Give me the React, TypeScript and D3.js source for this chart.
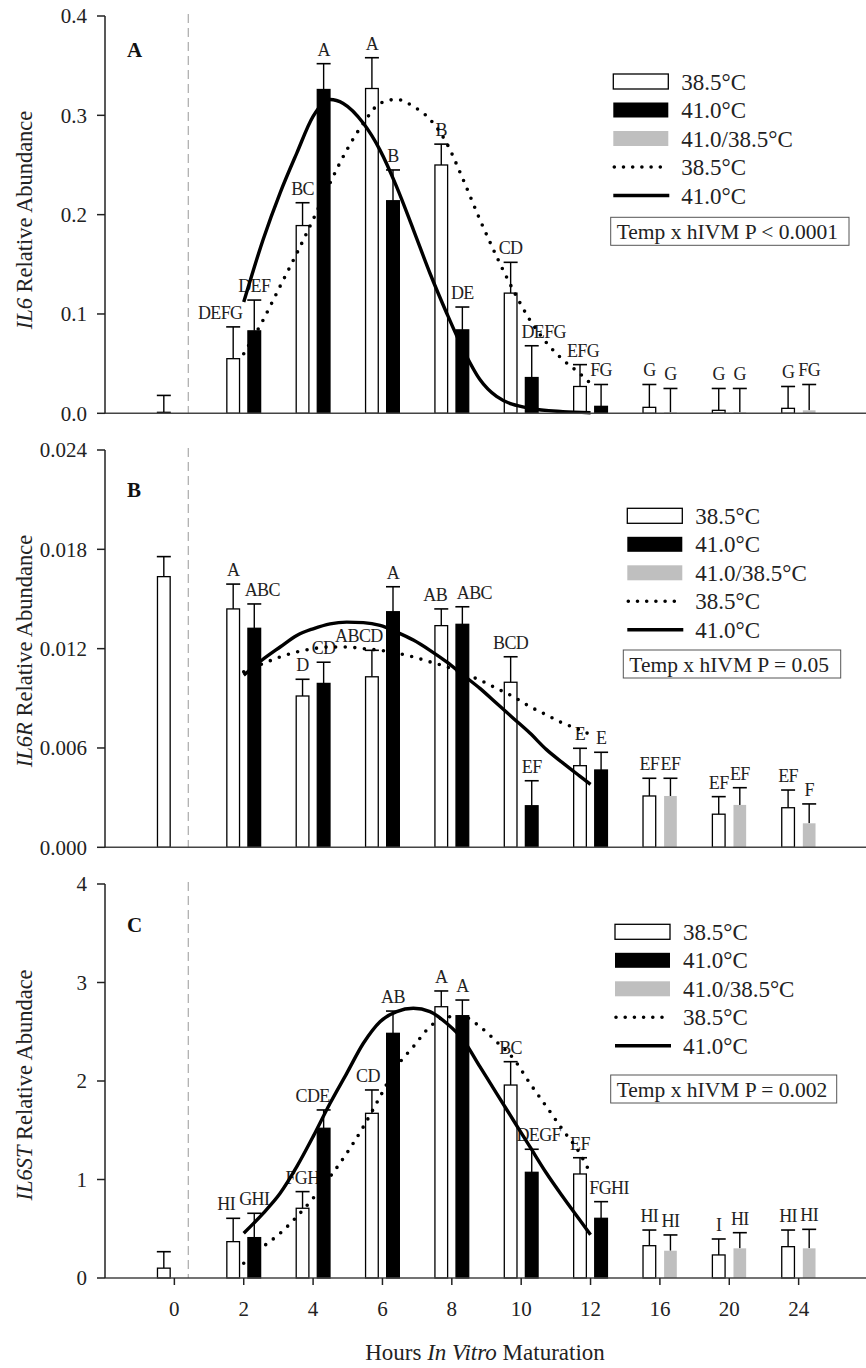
import React from "react";
import * as d3 from "d3";

// ---------- data ----------
const hours = ["0", "2", "4", "6", "8", "10", "12", "16", "20", "24"];

// Panel A: IL6
const il6Mean385 = [0.001, 0.055, 0.189, 0.327, 0.25, 0.121, 0.027, 0.006, 0.003, 0.005];
const il6Se385 = [0.017, 0.032, 0.023, 0.031, 0.021, 0.031, 0.022, 0.023, 0.022, 0.022];
const il6Mean41 = [null, 0.083, 0.326, 0.214, 0.084, 0.036, 0.007, null, null, null];
const il6Se41 = [null, 0.031, 0.026, 0.031, 0.023, 0.032, 0.022, null, null, null];
const il6MeanShift = [null, null, null, null, null, null, null, 0.001, 0.001, 0.003];
const il6SeShift = [null, null, null, null, null, null, null, 0.024, 0.024, 0.026];
const il6Lab385 = ["", "DEFG", "BC", "A", "B", "CD", "EFG", "G", "G", "G"];
const il6Lab41 = ["", "DEF", "A", "B", "DE", "DEFG", "FG", "", "", ""];
const il6LabShift = ["", "", "", "", "", "", "", "G", "G", "FG"];
const il6Fit385: [number, number][] = [
  [2, 0.06], [2.56, 0.094], [3.05, 0.128], [3.53, 0.161], [4.0, 0.195], [4.49, 0.232],
  [4.97, 0.265], [5.45, 0.292], [5.93, 0.312], [6.41, 0.316], [6.89, 0.309], [7.37, 0.296],
  [7.85, 0.272], [8.33, 0.235], [8.81, 0.195], [9.29, 0.158], [9.77, 0.124], [10.25, 0.094],
  [10.73, 0.071], [11.2, 0.054], [11.69, 0.04], [12, 0.03],
];
const il6Fit41: [number, number][] = [
  [2, 0.112], [2.56, 0.175], [3.05, 0.222], [3.53, 0.262], [4.0, 0.299], [4.49, 0.316],
  [4.87, 0.312], [5.45, 0.292], [5.93, 0.265], [6.41, 0.228], [6.89, 0.185], [7.37, 0.141],
  [7.85, 0.101], [8.33, 0.064], [8.81, 0.034], [9.29, 0.017], [10.25, 0.005], [11.2, 0.0017],
  [12, 0.0006],
];

// Panel B: IL6R
const il6rMean385 = [0.01635, 0.0144, 0.00914, 0.0103, 0.01339, 0.00997, 0.00493, 0.0031, 0.002, 0.00239];
const il6rSe385 = [0.00121, 0.0015, 0.00101, 0.0016, 0.00101, 0.00154, 0.00105, 0.00107, 0.00106, 0.00107];
const il6rMean41 = [null, 0.01323, 0.0099, 0.01423, 0.01347, 0.00251, 0.00467, null, null, null];
const il6rSe41 = [null, 0.00147, 0.00128, 0.00151, 0.00106, 0.00151, 0.00107, null, null, null];
const il6rMeanShift = [null, null, null, null, null, null, null, 0.0031, 0.00256, 0.00145];
const il6rSeShift = [null, null, null, null, null, null, null, 0.00107, 0.00104, 0.00117];
const il6rLab385 = ["", "A", "D", "ABCD", "AB", "BCD", "E", "EF", "EF", "EF"];
const il6rLab41 = ["", "ABC", "CD", "A", "ABC", "EF", "E", "", "", ""];
const il6rLabShift = ["", "", "", "", "", "", "", "EF", "EF", "F"];
const il6rFit385: [number, number][] = [
  [2, 0.0106], [2.56, 0.0111], [3.05, 0.0115], [3.53, 0.0118], [4.0, 0.012], [4.49, 0.0121],
  [4.97, 0.0121], [5.45, 0.012], [5.93, 0.0119], [6.89, 0.0115], [7.37, 0.0112], [7.85, 0.0109],
  [8.33, 0.0105], [8.81, 0.0101], [9.29, 0.0096], [9.77, 0.0091], [10.25, 0.0085], [10.73, 0.008],
  [11.2, 0.0075], [11.69, 0.0071], [12, 0.0068],
];
const il6rFit41: [number, number][] = [
  [2, 0.0104], [2.52, 0.0113], [3.05, 0.0121], [3.53, 0.0128], [4.0, 0.0132], [4.49, 0.0135],
  [4.97, 0.0136], [5.45, 0.01357], [5.93, 0.0134], [6.41, 0.013], [6.89, 0.01252], [7.37, 0.0119],
  [7.85, 0.0112], [8.33, 0.0104], [8.81, 0.0096], [9.29, 0.0087], [9.77, 0.0078], [10.25, 0.0069],
  [10.73, 0.0059], [11.2, 0.0051], [11.69, 0.0043], [12, 0.0038],
];

// Panel C: IL6ST
const il6stMean385 = [0.1, 0.369, 0.708, 1.672, 2.754, 1.959, 1.056, 0.328, 0.234, 0.318];
const il6stSe385 = [0.167, 0.237, 0.169, 0.237, 0.16, 0.237, 0.165, 0.159, 0.162, 0.169];
const il6stMean41 = [null, 0.41, 1.52, 2.484, 2.663, 1.073, 0.606, null, null, null];
const il6stSe41 = [null, 0.247, 0.186, 0.226, 0.159, 0.234, 0.169, null, null, null];
const il6stMeanShift = [null, null, null, null, null, null, null, 0.277, 0.301, 0.301];
const il6stSeShift = [null, null, null, null, null, null, null, 0.16, 0.159, 0.193];
const il6stLab385 = ["", "HI", "FGH", "CD", "A", "BC", "EF", "HI", "I", "HI"];
const il6stLab41 = ["", "GHI", "CDE", "AB", "A", "DEGF", "FGHI", "", "", ""];
const il6stLabShift = ["", "", "", "", "", "", "", "HI", "HI", "HI"];
const il6stFit385: [number, number][] = [
  [2, 0.149], [2.56, 0.318], [3.05, 0.454], [3.53, 0.622], [4.0, 0.809], [4.49, 1.028],
  [4.97, 1.266], [5.45, 1.536], [5.93, 1.84], [6.41, 2.145], [6.89, 2.348], [7.37, 2.551],
  [7.85, 2.653], [8.33, 2.653], [8.81, 2.551], [9.29, 2.399], [9.77, 2.23], [10.25, 1.977],
  [10.73, 1.739], [11.2, 1.503], [11.69, 1.266], [12, 1.06],
];
const il6stFit41: [number, number][] = [
  [2, 0.454], [2.56, 0.657], [3.05, 0.86], [3.53, 1.13], [4.0, 1.435], [4.49, 1.774],
  [4.97, 2.078], [5.45, 2.383], [5.93, 2.602], [6.41, 2.704], [6.89, 2.738], [7.37, 2.704],
  [7.85, 2.586], [8.33, 2.416], [8.81, 2.145], [9.29, 1.875], [9.77, 1.604], [10.25, 1.333],
  [10.73, 1.063], [11.2, 0.825], [11.69, 0.589], [12, 0.44],
];

const legendLabels = ["38.5°C", "41.0°C", "41.0/38.5°C", "38.5°C", "41.0°C"];

// small horizontal nudges of letter labels, as placed in the original figure
const labelNudge: Record<string, number> = {
  "A-1-w": -13, "A-5-b": 12, "A-6-w": 3,
  "B-1-b": 8, "B-3-w": -13, "B-4-w": -6, "B-4-b": 12,
  "C-1-w": -7, "C-2-b": -11, "C-3-w": -4, "C-5-b": 7, "C-6-b": 8,
};

// ---------- layout ----------
const W = 866;
const H = 1368;
const FONT = "'Liberation Serif', 'Times New Roman', serif";
const AXIS_X = 105;
const x = d3.scaleLinear().domain([-1, 10]).range([AXIS_X, 868]);
const BAR_OFF = 0.152;
const BAR_W = x(0.183) - x(0);

const panels = [
  {
    letter: "A", gene: "IL6", rest: " Relative Abundance",
    y: d3.scaleLinear().domain([0, 0.4]).range([413.3, 16]),
    ticks: [0, 0.1, 0.2, 0.3, 0.4], fmt: d3.format(".1f"),
    m385: il6Mean385, s385: il6Se385, m41: il6Mean41, s41: il6Se41, mS: il6MeanShift, sS: il6SeShift,
    l385: il6Lab385, l41: il6Lab41, lS: il6LabShift, f385: il6Fit385, f41: il6Fit41,
    legX: 613.3, legY: 74, boxX: 610.7, boxY: 217.3, boxW: 238.3, pText: "Temp x hIVM P < 0.0001",
    titleY: 220, letterY: 57,
  },
  {
    letter: "B", gene: "IL6R", rest: " Relative Abundance",
    y: d3.scaleLinear().domain([0, 0.024]).range([847.3, 450]),
    ticks: [0, 0.006, 0.012, 0.018, 0.024], fmt: d3.format(".3f"),
    m385: il6rMean385, s385: il6rSe385, m41: il6rMean41, s41: il6rSe41, mS: il6rMeanShift, sS: il6rSeShift,
    l385: il6rLab385, l41: il6rLab41, lS: il6rLabShift, f385: il6rFit385, f41: il6rFit41,
    legX: 627.3, legY: 508.3, boxX: 623.3, boxY: 650, boxW: 217.4, pText: "Temp x hIVM P = 0.05",
    titleY: 651, letterY: 497,
  },
  {
    letter: "C", gene: "IL6ST", rest: " Relative Abundace",
    y: d3.scaleLinear().domain([0, 4]).range([1278, 884]),
    ticks: [0, 1, 2, 3, 4], fmt: d3.format("d"),
    m385: il6stMean385, s385: il6stSe385, m41: il6stMean41, s41: il6stSe41, mS: il6stMeanShift, sS: il6stSeShift,
    l385: il6stLab385, l41: il6stLab41, lS: il6stLabShift, f385: il6stFit385, f41: il6stFit41,
    legX: 615, legY: 924.3, boxX: 610.7, boxY: 1075, boxW: 226, pText: "Temp x hIVM P = 0.002",
    titleY: 1085, letterY: 932,
  },
];

function Bar({ i, v, se, off, kind, label, y, nudge }: any) {
  if (v === null || v === undefined) return null;
  const cx = x(i + off);
  const top = y(v);
  const base = y(0);
  const cap = y(v + se);
  const fill = kind === "white" ? "#fff" : kind === "black" ? "#000" : "#bfbfbf";
  return (
    <g>
      <line x1={cx} x2={cx} y1={top} y2={cap} stroke="#000" strokeWidth={1.4} />
      <line x1={cx - 7} x2={cx + 7} y1={cap} y2={cap} stroke="#000" strokeWidth={1.6} />
      <rect
        x={cx - BAR_W / 2}
        y={top}
        width={BAR_W}
        height={Math.max(base - top, 0.8)}
        fill={fill}
        stroke={kind === "gray" ? "none" : "#000"}
        strokeWidth={1.3}
      />
      {label ? (
        <text
          x={cx + (nudge || 0)}
          y={cap - 8}
          textAnchor="middle"
          fontSize={18}
          letterSpacing={-0.6}
          fontFamily={FONT}
          fill="#222"
        >
          {label}
        </text>
      ) : null}
    </g>
  );
}

function Panel({ p, showX }: any) {
  const y = p.y;
  const y0 = y(0);
  const yTop = y(p.ticks[p.ticks.length - 1]);
  const line = d3
    .line<[number, number]>()
    .x((d) => x(d[0] / 2))
    .y((d) => y(d[1]))
    .curve(d3.curveMonotoneX);
  const rowH = 28.5;
  return (
    <g>
      {/* dashed separator */}
      <line x1={x(0.2)} x2={x(0.2)} y1={yTop - 2} y2={y0} stroke="#999" strokeWidth={1} strokeDasharray="9 5" />
      {/* bars */}
      {hours.map((h, i) => (
        <g key={h}>
          <Bar i={i} v={p.m385[i]} se={p.s385[i]} off={-BAR_OFF} kind="white" label={p.l385[i]} y={y}
            nudge={labelNudge[`${p.letter}-${i}-w`]} />
          <Bar i={i} v={p.m41[i]} se={p.s41[i]} off={BAR_OFF} kind="black" label={p.l41[i]} y={y}
            nudge={labelNudge[`${p.letter}-${i}-b`]} />
          <Bar i={i} v={p.mS[i]} se={p.sS[i]} off={BAR_OFF} kind="gray" label={p.lS[i]} y={y}
            nudge={labelNudge[`${p.letter}-${i}-g`]} />
        </g>
      ))}
      {/* fitted curves */}
      <path d={line(p.f385) || ""} fill="none" stroke="#000" strokeWidth={3.6} strokeDasharray="0 9.6" strokeLinecap="round" />
      <path d={line(p.f41) || ""} fill="none" stroke="#000" strokeWidth={3.4} />
      {/* axes */}
      <line x1={AXIS_X} x2={W} y1={y0} y2={y0} stroke="#444" strokeWidth={1.5} />
      <line x1={AXIS_X} x2={AXIS_X} y1={yTop} y2={y0} stroke="#222" strokeWidth={1.5} />
      {p.ticks.map((t: number) => (
        <g key={t}>
          <line x1={AXIS_X - 8} x2={AXIS_X} y1={y(t)} y2={y(t)} stroke="#222" strokeWidth={1.5} />
          <text x={87} y={y(t)} dy="0.35em" textAnchor="end" fontSize={21} fontFamily={FONT} fill="#222">
            {p.fmt(t)}
          </text>
        </g>
      ))}
      {showX &&
        hours.map((h, i) => (
          <g key={"xt" + h}>
            <line x1={x(i)} x2={x(i)} y1={y0} y2={y0 + 7} stroke="#222" strokeWidth={1.5} />
            <text x={x(i)} y={y0 + 31} dy="0.35em" textAnchor="middle" fontSize={21} fontFamily={FONT} fill="#222">
              {h}
            </text>
          </g>
        ))}
      {/* y title */}
      <text
        transform={`translate(24,${p.titleY}) rotate(-90)`}
        textAnchor="middle"
        dy="0.35em"
        fontSize={22.5}
        fontFamily={FONT}
        fill="#222"
      >
        <tspan fontStyle="italic">{p.gene}</tspan>
        {p.rest}
      </text>
      {/* panel letter */}
      <text x={127} y={p.letterY} fontSize={21} fontWeight="bold" fontFamily={FONT} fill="#111">
        {p.letter}
      </text>
      {/* legend */}
      <g>
        <rect x={p.legX} y={p.legY} width={55} height={15} fill="#fff" stroke="#000" strokeWidth={1.3} />
        <rect x={p.legX} y={p.legY + rowH} width={55} height={15} fill="#000" />
        <rect x={p.legX} y={p.legY + 2 * rowH} width={55} height={15} fill="#bfbfbf" />
        <line
          x1={p.legX + 1}
          x2={p.legX + 56}
          y1={p.legY + 7.5 + 3 * rowH}
          y2={p.legY + 7.5 + 3 * rowH}
          stroke="#000"
          strokeWidth={3.6}
          strokeDasharray="0 9.2"
          strokeLinecap="round"
        />
        <line
          x1={p.legX}
          x2={p.legX + 56}
          y1={p.legY + 7.5 + 4 * rowH}
          y2={p.legY + 7.5 + 4 * rowH}
          stroke="#000"
          strokeWidth={3.4}
        />
        {legendLabels.map((t, k) => (
          <text
            key={k}
            x={p.legX + 68}
            y={p.legY + 7.5 + k * rowH}
            dy="0.35em"
            fontSize={23}
            fontFamily={FONT}
            fill="#222"
          >
            {t}
          </text>
        ))}
        <rect x={p.boxX} y={p.boxY} width={p.boxW} height={28} fill="#fff" stroke="#555" strokeWidth={1} />
        <text x={p.boxX + 6} y={p.boxY + 14.5} dy="0.35em" fontSize={21.5} fontFamily={FONT} fill="#222">
          {p.pText}
        </text>
      </g>
    </g>
  );
}

export default function App() {
  return (
    <svg
      width={W}
      height={H}
      viewBox={`0 0 ${W} ${H}`}
      style={{ position: "absolute", left: 0, top: 0, background: "#fff" }}
    >
      <rect x={0} y={0} width={W} height={H} fill="#fff" />
      {panels.map((p, k) => (
        <Panel key={p.letter} p={p} showX={k === 2} />
      ))}
      <text x={485} y={1352} dy="0.35em" textAnchor="middle" fontSize={23} fontFamily={FONT} fill="#222">
        Hours <tspan fontStyle="italic">In Vitro</tspan> Maturation
      </text>
    </svg>
  );
}
